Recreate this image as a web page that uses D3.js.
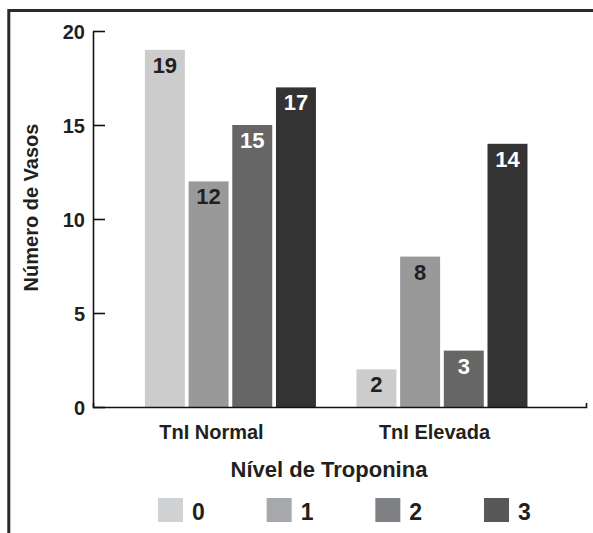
<!DOCTYPE html>
<html><head><meta charset="utf-8">
<script src="https://cdn.jsdelivr.net/npm/d3@7"></script>
<style>
html,body{margin:0;padding:0;background:#fff;}
text{font-family:"Liberation Sans",Arial,Helvetica,sans-serif;font-weight:bold;fill:#231f20;}
</style></head>
<body><svg id="c" width="593" height="533"></svg>
<script>
const categories = ["TnI Normal", "TnI Elevada"];
const series = ["0", "1", "2", "3"];
const values = [
  [19, 12, 15, 17],
  [2, 8, 3, 14]
];
const yTicks = [0, 5, 10, 15, 20];
const barColors = ["#cccccc", "#999999", "#666666", "#333333"];
const legendColors = ["#d1d2d4", "#a7a8ab", "#7f8083", "#58585a"];
const labelColors = ["#231f20", "#231f20", "#ffffff", "#ffffff"];
const yTitle = "Número de Vasos";
const xTitle = "Nível de Troponina";

(function () {
const svg = d3.select("#c");

// frame
svg.append("path").attr("d", "M8.8,533V10.5H593").attr("fill", "none")
  .attr("stroke", "#2a2a2a").attr("stroke-width", 3);

const pLeft = 93, pRight = 586, pTop = 31, pBottom = 407;

const y = d3.scaleLinear().domain([0, 20]).range([pBottom, pTop]);
const x0 = d3.scaleBand().domain(categories).range([pLeft, pRight])
  .paddingInner(0.1915).paddingOuter(0.261).align(0.47);
const x1 = d3.scaleBand().domain(series).range([0, x0.bandwidth()]).paddingInner(0.085);

// bars
const groups = svg.append("g").selectAll("g").data(categories).join("g")
  .attr("transform", d => `translate(${x0(d)},0)`);
groups.selectAll("rect").data((d, i) => values[i].map((v, j) => ({s: series[j], v, j})))
  .join("rect")
  .attr("x", d => x1(d.s)).attr("width", x1.bandwidth())
  .attr("y", d => y(d.v)).attr("height", d => y(0) - y(d.v))
  .attr("fill", d => barColors[d.j]);
groups.selectAll("text.v").data((d, i) => values[i].map((v, j) => ({s: series[j], v, j})))
  .join("text").attr("class", "v")
  .attr("x", d => x1(d.s) + x1.bandwidth() / 2)
  .attr("y", d => y(d.v) + 23)
  .attr("text-anchor", "middle").style("font-size", "22px")
  .style("fill", d => labelColors[d.j]).text(d => d.v);

// y axis
const ya = svg.append("g").attr("transform", `translate(${pLeft},0)`)
  .call(d3.axisLeft(y).tickValues(yTicks).tickSize(-12).tickSizeOuter(0).tickPadding(8));
ya.select(".domain").attr("stroke", "#111").attr("stroke-width", 1.6);
ya.selectAll(".tick line").attr("stroke", "#111").attr("stroke-width", 1.6);
ya.selectAll(".tick text").style("font-size", "20px").attr("font-family", null).attr("fill", null).attr("dy", "0.36em");

// x axis
const nudge = [-19, -7.5];
const xa = svg.append("g").attr("transform", `translate(0,${pBottom})`)
  .call(d3.axisBottom(x0).tickSize(0).tickSizeOuter(-4).tickPadding(18));
xa.select(".domain").attr("stroke", "#111").attr("stroke-width", 1.6);
xa.selectAll(".tick text").style("font-size", "20px").attr("font-family", null).attr("fill", null)
  .attr("dx", (d, i) => nudge[i]);

// axis titles
svg.append("text").attr("transform", "translate(38,207.5) rotate(-90)")
  .attr("text-anchor", "middle").style("font-size", "20px").text(yTitle);
svg.append("text").attr("x", 329).attr("y", 477).attr("text-anchor", "middle")
  .style("font-size", "22px").text(xTitle);

// legend
const lx = d3.scalePoint().domain(series).range([158, 484]);
const lg = svg.append("g").selectAll("g").data(series).join("g")
  .attr("transform", d => `translate(${lx(d)},498)`);
lg.append("rect").attr("width", 25).attr("height", 24).attr("fill", (d, i) => legendColors[i]);
lg.append("text").attr("x", 34).attr("y", 22).style("font-size", "23px").text(d => d);
})();
</script></body></html>
